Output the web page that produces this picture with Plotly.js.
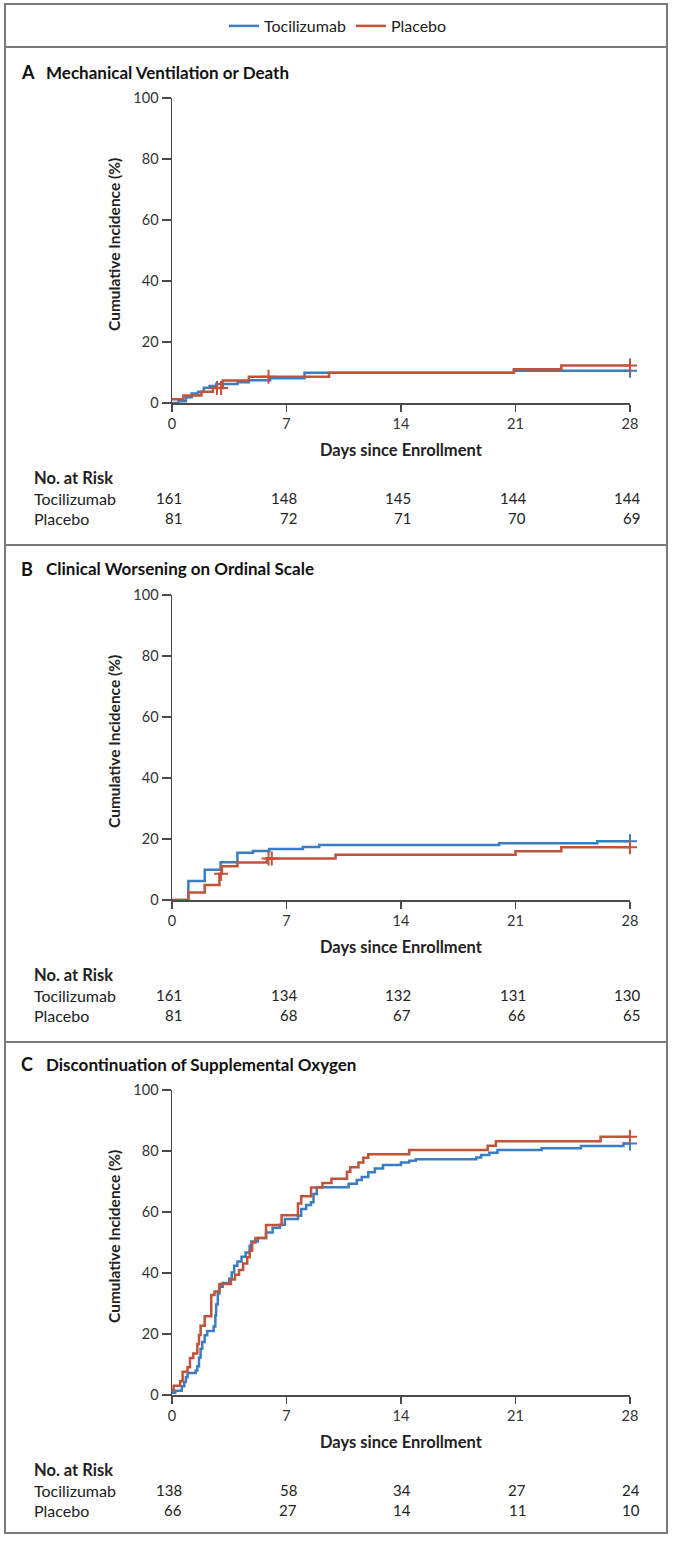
<!DOCTYPE html>
<html>
<head>
<meta charset="utf-8">
<script src="https://cdn.plot.ly/plotly-3.0.1.min.js"></script>
<style>
html,body{margin:0;padding:0;background:#fff;}
#chart{width:680px;height:1541px;}
</style>
</head>
<body>
<div id="chart"></div>
<script>
// ---------- DATA ----------
const dayTicks = [0, 7, 14, 21, 28];
const pctTicks = [0, 20, 40, 60, 80, 100];
const seriesNames = ["Tocilizumab", "Placebo"];

// Panel A: Mechanical Ventilation or Death
const aTocDays = [0, 0.4, 0.85, 1.2, 1.6, 1.95, 2.3, 2.7, 4.0, 4.7, 6.0, 8.1, 20.9, 28];
const aTocPct  = [0, 0.6, 1.9, 3.1, 3.7, 5.0, 5.6, 6.2, 6.8, 7.5, 8.1, 9.9, 10.6, 10.6];
const aPlaDays = [0, 0.7, 1.8, 2.5, 3.1, 4.7, 9.6, 20.9, 23.8, 28];
const aPlaPct  = [1.2, 2.5, 3.7, 4.9, 7.4, 8.6, 9.9, 11.1, 12.3, 12.3];
const aTocCensDays = [28];
const aTocCensPct  = [10.6];
const aPlaCensDays = [2.75, 3.0, 5.9, 28];
const aPlaCensPct  = [4.9, 4.9, 8.6, 12.3];
const aRiskToc = [161, 148, 145, 144, 144];
const aRiskPla = [81, 72, 71, 70, 69];

// Panel B: Clinical Worsening on Ordinal Scale
const bTocDays = [0, 1.0, 2.0, 2.97, 4.0, 4.95, 5.95, 8.0, 9.0, 20.0, 26.0, 28];
const bTocPct  = [0, 6.2, 9.9, 12.4, 15.5, 16.1, 16.7, 17.4, 18.0, 18.6, 19.3, 19.3];
const bPlaDays = [0, 1.0, 2.0, 2.9, 3.05, 4.0, 5.8, 10.0, 21.0, 23.8, 28];
const bPlaPct  = [0, 2.5, 4.9, 8.6, 11.1, 12.3, 13.6, 14.8, 16.0, 17.3, 17.3];
const bTocCensDays = [28];
const bTocCensPct  = [19.3];
const bPlaCensDays = [3.0, 5.9, 6.1, 28];
const bPlaCensPct  = [8.6, 13.6, 13.6, 17.3];
const bRiskToc = [161, 134, 132, 131, 130];
const bRiskPla = [81, 68, 67, 66, 65];

// Panel C: Discontinuation of Supplemental Oxygen
const cTocDays = [0, 0.2, 0.6, 0.75, 0.85, 0.95, 1.45, 1.55, 1.65, 1.75, 1.85, 2.0, 2.15, 2.55, 2.65, 2.7, 2.8, 2.9, 3.1, 3.5, 3.65, 3.8, 4.0, 4.25, 4.5, 4.75, 4.85, 5.25, 5.75, 6.15, 6.6, 6.9, 7.7, 7.9, 8.2, 8.5, 8.65, 8.85, 10.8, 11.3, 11.6, 12.0, 12.4, 12.9, 14.0, 14.5, 14.9, 18.6, 18.9, 19.4, 19.9, 22.6, 25.0, 27.6, 28];
const cTocPct  = [0.7, 1.4, 2.9, 4.3, 5.8, 7.2, 8.0, 9.4, 12.3, 15.2, 17.4, 19.6, 21.0, 22.5, 26.1, 29.7, 33.3, 35.5, 36.7, 38.1, 40.2, 42.4, 43.8, 45.3, 46.7, 48.9, 50.3, 51.5, 53.3, 54.8, 55.8, 57.7, 58.8, 61.0, 62.3, 63.2, 65.9, 68.1, 69.3, 70.5, 71.5, 73.0, 74.3, 75.4, 76.2, 76.8, 77.3, 77.9, 78.7, 79.4, 80.3, 80.9, 81.6, 82.5, 82.5];
const cPlaDays = [0, 0.1, 0.5, 0.65, 0.95, 1.1, 1.3, 1.55, 1.65, 1.75, 2.0, 2.4, 2.6, 2.9, 3.6, 3.85, 4.1, 4.35, 4.6, 4.75, 4.9, 5.1, 5.75, 6.7, 7.7, 7.9, 8.5, 9.2, 9.75, 10.7, 10.9, 11.4, 11.7, 12.0, 14.5, 19.3, 19.8, 26.2, 28];
const cPlaPct  = [1.5, 3.0, 4.5, 7.6, 9.1, 12.1, 13.6, 16.7, 19.7, 22.7, 25.8, 32.8, 33.9, 36.4, 37.9, 39.4, 41.0, 43.1, 45.2, 47.3, 50.0, 51.5, 55.7, 58.9, 62.8, 65.2, 68.0, 69.5, 70.9, 73.2, 74.7, 76.2, 77.8, 78.9, 80.3, 81.7, 83.2, 84.7, 84.7];
const cTocCensDays = [28];
const cTocCensPct  = [82.5];
const cPlaCensDays = [28];
const cPlaCensPct  = [84.7];
const cRiskToc = [138, 58, 34, 27, 24];
const cRiskPla = [66, 27, 14, 11, 10];

const panelLetters = ["A", "B", "C"];
const panelTitles = ["Mechanical Ventilation or Death", "Clinical Worsening on Ordinal Scale", "Discontinuation of Supplemental Oxygen"];
const yTitle = "Cumulative Incidence (%)";
const xTitle = "Days since Enrollment";
const riskTitle = "No. at Risk";

// ---------- STYLE / LAYOUT ----------
const W = 680, H = 1541;
const FONT = "Lato, 'Open Sans', sans-serif";
const BLUE = "#3a7dc0", RED = "#c1533b";
const AX = "#4a4a4a";
const px = v => v / W;
const py = v => 1 - v / H;
const plotLeft = 172, plotRight = 630;
const panelOffsets = [0, 497, 992]; // vertical shift of each panel (px)
const yTop0 = 98, yBot0 = 403;

const panels = [
  {toc:[aTocDays,aTocPct], pla:[aPlaDays,aPlaPct], tc:[aTocCensDays,aTocCensPct], pc:[aPlaCensDays,aPlaCensPct], rt:aRiskToc, rp:aRiskPla},
  {toc:[bTocDays,bTocPct], pla:[bPlaDays,bPlaPct], tc:[bTocCensDays,bTocCensPct], pc:[bPlaCensDays,bPlaCensPct], rt:bRiskToc, rp:bRiskPla},
  {toc:[cTocDays,cTocPct], pla:[cPlaDays,cPlaPct], tc:[cTocCensDays,cTocCensPct], pc:[cPlaCensDays,cPlaCensPct], rt:cRiskToc, rp:cRiskPla}
];

const traces = [];
const annotations = [];
const layout = {
  width: W, height: H,
  margin: {l:0, r:0, t:0, b:0},
  paper_bgcolor: "#fff", plot_bgcolor: "#fff",
  font: {family: FONT, size: 14, color: "#222"},
  showlegend: true,
  legend: {orientation: "h", x: 0.497, xanchor: "center", y: py(26), yanchor: "middle",
           font: {family: FONT, size: 16, color: "#222"}, itemwidth: 30, tracegroupgap: 0,
           bgcolor: "rgba(0,0,0,0)"},
  shapes: [],
  annotations: annotations
};

panels.forEach((p, i) => {
  const off = panelOffsets[i];
  const xa = i === 0 ? "x" : "x" + (i + 1);
  const ya = i === 0 ? "y" : "y" + (i + 1);
  const xKey = i === 0 ? "xaxis" : "xaxis" + (i + 1);
  const yKey = i === 0 ? "yaxis" : "yaxis" + (i + 1);
  layout[xKey] = {
    domain: [px(plotLeft), px(plotRight)], anchor: ya, range: [0, 28],
    tickvals: dayTicks, ticktext: dayTicks.map(String), showgrid: false, zeroline: false,
    showline: true, linecolor: AX, linewidth: 1.5, ticks: "outside", ticklen: 7,
    tickwidth: 1.5, tickcolor: AX, tickfont: {family: FONT, size: 14.5, color: "#333"}, fixedrange: true
  };
  layout[yKey] = {
    domain: [py(yBot0 + off), py(yTop0 + off)], anchor: xa, range: [0, 100],
    tickvals: pctTicks, ticktext: pctTicks.map(String), showgrid: false, zeroline: false,
    showline: true, linecolor: AX, linewidth: 1.5, ticks: "outside", ticklen: 9,
    tickwidth: 1.5, tickcolor: AX, tickfont: {family: FONT, size: 14.5, color: "#333"}, fixedrange: true
  };
  const series = [[p.toc, p.tc, BLUE, p.rt], [p.pla, p.pc, RED, p.rp]];
  series.forEach((s, k) => {
    traces.push({
      type: "scatter", mode: "lines", x: s[0][0], y: s[0][1], xaxis: xa, yaxis: ya,
      line: {color: s[2], width: 2.5, shape: "hv"}, name: seriesNames[k],
      showlegend: i === 0, legendrank: k + 1, cliponaxis: false, hoverinfo: "skip"
    });
    traces.push({
      type: "scatter", mode: "markers", x: s[1][0], y: s[1][1], xaxis: xa, yaxis: ya,
      marker: {symbol: "cross-thin", size: 10, line: {color: s[2], width: 2}, color: s[2]},
      showlegend: false, cliponaxis: false, hoverinfo: "skip"
    });
  });
  // panel heading
  annotations.push({xref: "paper", yref: "paper", x: px(19), y: py(72 + off), xanchor: "left", yanchor: "middle",
    text: "<b>" + panelLetters[i] + "</b>", showarrow: false, font: {family: FONT, size: 18, color: "#111"}});
  annotations.push({xref: "paper", yref: "paper", x: px(44), y: py(72 + off), xanchor: "left", yanchor: "middle",
    text: "<b>" + panelTitles[i] + "</b>", showarrow: false, font: {family: FONT, size: 17, color: "#111"}});
  // axis titles
  annotations.push({xref: "paper", yref: "paper", x: px(114), y: py(244 + off), xanchor: "center", yanchor: "middle",
    text: "<b>" + yTitle + "</b>", textangle: -90, showarrow: false, font: {family: FONT, size: 15.5, color: "#222"}});
  annotations.push({xref: "paper", yref: "paper", x: px(401), y: py(450 + off), xanchor: "center", yanchor: "middle",
    text: "<b>" + xTitle + "</b>", showarrow: false, font: {family: FONT, size: 16.5, color: "#222"}});
  // risk table
  annotations.push({xref: "paper", yref: "paper", x: px(32), y: py(478 + off), xanchor: "left", yanchor: "middle",
    text: "<b>" + riskTitle + "</b>", showarrow: false, font: {family: FONT, size: 16.5, color: "#222"}});
  series.forEach((s, k) => {
    const rowY = py(498 + 20 * k + off);
    annotations.push({xref: "paper", yref: "paper", x: px(32), y: rowY, xanchor: "left", yanchor: "middle",
      text: seriesNames[k], showarrow: false, font: {family: FONT, size: 16, color: "#222"}});
    s[3].forEach((n, j) => {
      annotations.push({xref: xa, yref: "paper", x: dayTicks[j], y: rowY, xanchor: "right", yanchor: "middle",
        xshift: 12, text: String(n), showarrow: false, font: {family: FONT, size: 15, color: "#222"}});
    });
  });
});

// frame and separators
const frameColor = "#7a7a7a";
layout.shapes.push({type: "rect", xref: "paper", yref: "paper", x0: px(5), x1: px(667), y0: py(1533), y1: py(4),
  line: {color: frameColor, width: 2}, fillcolor: "rgba(0,0,0,0)"});
[47, 545, 1042].forEach(v => layout.shapes.push({type: "line", xref: "paper", yref: "paper",
  x0: px(5), x1: px(667), y0: py(v), y1: py(v), line: {color: frameColor, width: 2}}));

Plotly.newPlot("chart", traces, layout, {staticPlot: true, displayModeBar: false});
</script>
</body>
</html>
